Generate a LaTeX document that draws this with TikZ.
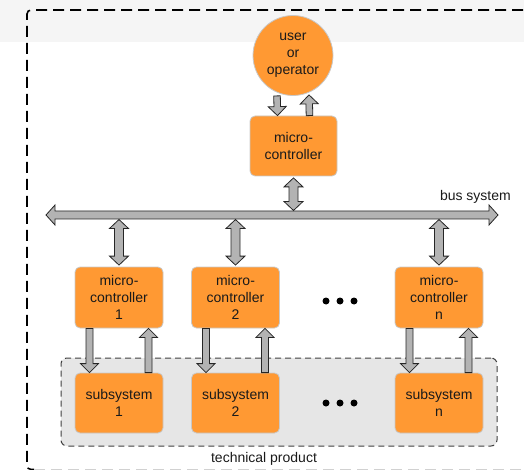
\documentclass[tikz,border=0pt]{standalone}
\usepackage{fontspec}
\setmainfont{Liberation Sans}
\usetikzlibrary{calc}

\definecolor{boxorange}{HTML}{FF9933}
\definecolor{boxedge}{HTML}{C8C8C8}
\definecolor{arrowgray}{HTML}{B3B3B3}
\definecolor{bandgray}{HTML}{F5F5F5}
\definecolor{productgray}{HTML}{E6E6E6}
\definecolor{inktext}{HTML}{1A1A1A}

% Block arrow with one head: shaft half-width, head half-width, head length, start, end
\newcommand\FatArrow[5]{%
  \draw[fatarrow] let \p1=#4, \p2=#5,
      \n1={veclen(\x2-\x1,\y2-\y1)}, \n2={(\x2-\x1)/\n1}, \n3={(\y2-\y1)/\n1} in
    ({\x1-(\n3)*#1},{\y1+(\n2)*#1})
    -- ({\x2-(\n2)*#3-(\n3)*#1},{\y2-(\n3)*#3+(\n2)*#1})
    -- ({\x2-(\n2)*#3-(\n3)*#2},{\y2-(\n3)*#3+(\n2)*#2})
    -- (\p2)
    -- ({\x2-(\n2)*#3+(\n3)*#2},{\y2-(\n3)*#3-(\n2)*#2})
    -- ({\x2-(\n2)*#3+(\n3)*#1},{\y2-(\n3)*#3-(\n2)*#1})
    -- ({\x1+(\n3)*#1},{\y1-(\n2)*#1}) -- cycle;}

% Block arrow with heads at both ends
\newcommand\FatDArrow[5]{%
  \draw[fatarrow] let \p1=#4, \p2=#5,
      \n1={veclen(\x2-\x1,\y2-\y1)}, \n2={(\x2-\x1)/\n1}, \n3={(\y2-\y1)/\n1} in
    (\p1)
    -- ({\x1+(\n2)*#3-(\n3)*#2},{\y1+(\n3)*#3+(\n2)*#2})
    -- ({\x1+(\n2)*#3-(\n3)*#1},{\y1+(\n3)*#3+(\n2)*#1})
    -- ({\x2-(\n2)*#3-(\n3)*#1},{\y2-(\n3)*#3+(\n2)*#1})
    -- ({\x2-(\n2)*#3-(\n3)*#2},{\y2-(\n3)*#3+(\n2)*#2})
    -- (\p2)
    -- ({\x2-(\n2)*#3+(\n3)*#2},{\y2-(\n3)*#3-(\n2)*#2})
    -- ({\x2-(\n2)*#3+(\n3)*#1},{\y2-(\n3)*#3-(\n2)*#1})
    -- ({\x1+(\n2)*#3+(\n3)*#1},{\y1+(\n3)*#3-(\n2)*#1})
    -- ({\x1+(\n2)*#3+(\n3)*#2},{\y1+(\n3)*#3-(\n2)*#2}) -- cycle;}

\begin{document}
\begin{tikzpicture}[x=1pt, y=-1pt,
  font=\fontsize{14}{17}\selectfont,
  unit/.style={draw=boxedge, fill=boxorange, line width=0.8pt, rounded corners=5pt,
    minimum width=88pt, minimum height=61pt, inner sep=0pt, align=center, text=inktext},
  person/.style={circle, draw=boxedge, fill=boxorange, line width=0.8pt,
    minimum size=80pt, inner sep=0pt, align=center, text=inktext},
  fatarrow/.style={draw=black!85, fill=arrowgray, line width=0.8pt, line join=miter},
  outerframe/.style={line width=1.6pt, dash pattern=on 11pt off 6pt},
  productbox/.style={draw=black!75, fill=productgray, line width=1pt,
    dash pattern=on 6pt off 4pt, rounded corners=6pt,
    minimum width=436pt, minimum height=88pt, inner sep=0pt},
  caption/.style={text=inktext, inner sep=0pt},
  dotmark/.style={circle, fill=black, minimum size=7pt, inner sep=0pt}]

\useasboundingbox (0,0) rectangle (524,470);

% light header band
\fill[bandgray] (0,0) rectangle (524,42);

% frame of the whole system
\draw[outerframe, black, rounded corners=4pt] (540,10) -- (27,10) -- (27,469.5) -- (34,469.5);
\draw[outerframe, black!18] (34,469.5) -- (540,469.5);

% technical product region
\node[productbox] (product) at (279,402) {};
\node[caption] (prodlabel) at (264,459) {technical product};

% nodes
\node[person] (user) at (293,55.5) {user\\or\\operator};
\node[unit, minimum width=87pt, minimum height=60pt] (mc0) at (293.5,146) {micro-\\controller};

\node[unit] (mc1) at (119,297.5) {micro-\\controller\\1};
\node[unit] (mc2) at (235.5,297.5) {micro-\\controller\\2};
\node[unit] (mcn) at (439,297.5) {micro-\\controller\\n};

\node[unit, minimum height=60pt] (sub1) at (119,403) {subsystem\\1};
\node[unit, minimum height=60pt] (sub2) at (235.5,403) {subsystem\\2};
\node[unit, minimum height=60pt] (subn) at (439,403) {subsystem\\n};

\node[dotmark] (da1) at (326,301) {};
\node[dotmark] (da2) at (340,301) {};
\node[dotmark] (da3) at (354,301) {};
\node[dotmark] (db1) at (326,403) {};
\node[dotmark] (db2) at (340,403) {};
\node[dotmark] (db3) at (354,403) {};

% bus
\coordinate (busL) at (46,215);
\coordinate (busR) at (498,215);
\FatDArrow{4pt}{10pt}{9pt}{(busL)}{(busR)}
\node[caption, anchor=east] (buslabel) at (511,197) {bus system};

% user <-> top controller
\FatArrow{3.3pt}{9pt}{9pt}{($(user.south)+(-16,0)$)}{($(mc0.north)+(-16,0)$)}
\FatArrow{3.3pt}{9pt}{9pt}{($(mc0.north)+(16,0)$)}{($(user.south)+(16,-1)$)}

% controllers <-> bus
\FatDArrow{4.5pt}{9.5pt}{9pt}{($(mc0.south)+(0,1.5)$)}{($(mc0.south |- busL)+(0,-4.5)$)}
\FatDArrow{4.5pt}{9.5pt}{9pt}{($(mc1.north |- busL)+(0,4.5)$)}{($(mc1.north)+(0,-1.5)$)}
\FatDArrow{4.5pt}{9.5pt}{9pt}{($(mc2.north |- busL)+(0,4.5)$)}{($(mc2.north)+(0,-1.5)$)}
\FatDArrow{4.5pt}{9.5pt}{9pt}{($(mcn.north |- busL)+(0,4.5)$)}{($(mcn.north)+(0,-1.5)$)}

% controllers <-> subsystems
\foreach \m/\s in {mc1/sub1, mc2/sub2, mcn/subn}{
  \FatArrow{3.5pt}{9pt}{9pt}{($(\m.south)+(-29.5,0)$)}{($(\s.north)+(-29.5,0)$)}
  \FatArrow{3.5pt}{9pt}{9pt}{($(\s.north)+(29.5,0)$)}{($(\m.south)+(29.5,0)$)}
}
\end{tikzpicture}
\end{document}
